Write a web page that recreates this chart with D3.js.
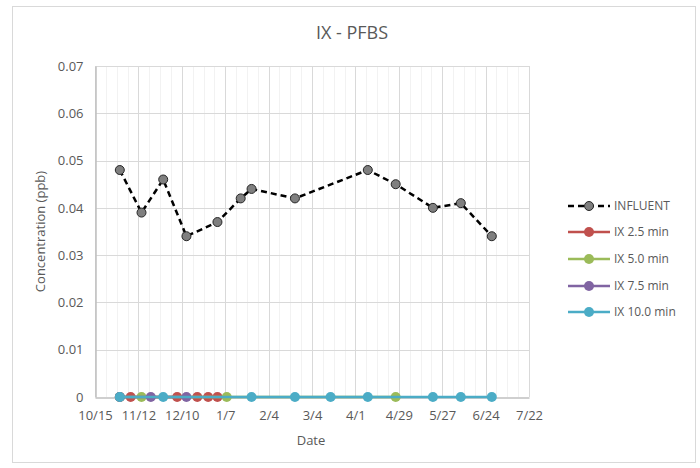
<!DOCTYPE html>
<html>
<head>
<meta charset="utf-8">
<script src="https://cdn.jsdelivr.net/npm/d3@7"></script>
<style>
  body { margin: 0; background: #fff; }
  text { font-family: "Open Sans", "Liberation Sans", sans-serif; fill: #595959; }
</style>
</head>
<body>
<svg id="chart"></svg>
<script>
var width = 700,
    height = 468;

// influent samples
var influentDates = ["2018-10-31", "2018-11-14", "2018-11-28", "2018-12-13", "2019-01-02", "2019-01-17",
    "2019-01-24", "2019-02-21", "2019-04-09", "2019-04-27", "2019-05-21", "2019-06-08", "2019-06-28"];
var influentValues = [0.048, 0.039, 0.046, 0.034, 0.037, 0.042, 0.044, 0.042, 0.048, 0.045, 0.040, 0.041, 0.034];

// effluent samples (all non detect)
var ix25Dates = ["2018-10-31", "2018-11-07", "2018-12-07", "2018-12-20", "2018-12-27", "2019-01-02"];
var ix25Values = [0, 0, 0, 0, 0, 0];
var ix50Dates = ["2018-10-31", "2018-11-14", "2019-01-08", "2019-04-27"];
var ix50Values = [0, 0, 0, 0];
var ix75Dates = ["2018-10-31", "2018-11-20", "2018-12-13"];
var ix75Values = [0, 0, 0];
var ix100Dates = ["2018-10-31", "2018-11-28", "2019-01-24", "2019-02-21", "2019-03-16", "2019-04-09",
    "2019-05-21", "2019-06-08", "2019-06-28"];
var ix100Values = [0, 0, 0, 0, 0, 0, 0, 0, 0];

var seriesNames = ["INFLUENT", "IX 2.5 min", "IX 5.0 min", "IX 7.5 min", "IX 10.0 min"];
var yTicks = [0, 0.01, 0.02, 0.03, 0.04, 0.05, 0.06, 0.07];

var parseDate = d3.utcParse("%Y-%m-%d");
var fmt = d3.utcFormat("%-m/%-d");

var xStart = parseDate("2018-10-15"),
    xEnd = parseDate("2019-07-22");

var margin = {left: 95, top: 66, right: 529, bottom: 397};

var svg = d3.select("#chart")
    .attr("width", width)
    .attr("height", height);

// chart frame
svg.append("rect")
    .attr("x", 12.5).attr("y", 6.5)
    .attr("width", 683).attr("height", 456)
    .style("fill", "#fff")
    .style("stroke", "#d9d9d9");

var x = d3.scaleUtc().domain([xStart, xEnd]).range([margin.left, margin.right]);
var y = d3.scaleLinear().domain([0, 0.07]).range([margin.bottom, margin.top]);

var majorTicks = d3.utcDay.range(xStart, d3.utcDay.offset(xEnd, 1), 28);
var minorTicks = d3.utcDay.range(xStart, d3.utcDay.offset(xEnd, 1), 7);

var grid = svg.append("g");

grid.selectAll(".minor")
    .data(minorTicks)
    .enter().append("line")
    .attr("x1", function(d) { return Math.round(x(d)) + 0.5; })
    .attr("x2", function(d) { return Math.round(x(d)) + 0.5; })
    .attr("y1", margin.top)
    .attr("y2", margin.bottom)
    .style("stroke", "#f2f2f2");

grid.selectAll(".major")
    .data(majorTicks)
    .enter().append("line")
    .attr("x1", function(d) { return Math.round(x(d)) + 0.5; })
    .attr("x2", function(d) { return Math.round(x(d)) + 0.5; })
    .attr("y1", margin.top)
    .attr("y2", margin.bottom)
    .style("stroke", "#d9d9d9");

grid.selectAll(".hgrid")
    .data(yTicks.slice(1))
    .enter().append("line")
    .attr("x1", margin.left)
    .attr("x2", margin.right)
    .attr("y1", function(d) { return Math.round(y(d)) + 0.5; })
    .attr("y2", function(d) { return Math.round(y(d)) + 0.5; })
    .style("stroke", "#d9d9d9");

// axes
var yAxis = svg.append("g")
    .attr("transform", "translate(" + (margin.left + 0.5) + ",0)")
    .call(d3.axisLeft(y).tickValues(yTicks).tickFormat(function(d) { return d === 0 ? "0" : d3.format(".2f")(d); }).tickSize(0).tickPadding(12));
yAxis.select(".domain").style("stroke", "#bfbfbf").style("stroke-width", 1.5);
yAxis.selectAll("text").style("font-size", "13px").style("fill", "#595959");

var xAxis = svg.append("g")
    .attr("transform", "translate(0," + (margin.bottom + 0.5) + ")")
    .call(d3.axisBottom(x).tickValues(majorTicks).tickFormat(fmt).tickSize(0).tickPadding(13));
xAxis.select(".domain").style("stroke", "#bfbfbf").style("stroke-width", 1.5);
xAxis.selectAll("text").style("font-size", "13px").style("fill", "#595959");

// titles
svg.append("text")
    .attr("x", 352).attr("y", 39)
    .style("text-anchor", "middle")
    .style("font-size", "18px")
    .text("IX - PFBS");

svg.append("text")
    .attr("x", 311).attr("y", 445)
    .style("text-anchor", "middle")
    .style("font-size", "13px")
    .text("Date");

svg.append("text")
    .attr("transform", "translate(45," + ((margin.top + margin.bottom) / 2) + ") rotate(-90)")
    .style("text-anchor", "middle")
    .style("font-size", "13px")
    .text("Concentration (ppb)");

// series
function zipSeries(dates, values) {
    return dates.map(function(d, i) { return {date: parseDate(d), value: values[i]}; });
}

var series = [
    {name: seriesNames[0], data: zipSeries(influentDates, influentValues), color: "#000", fill: "#7f7f7f", dash: "6,4"},
    {name: seriesNames[1], data: zipSeries(ix25Dates, ix25Values), color: "#c0504d", fill: "#c0504d", dash: null},
    {name: seriesNames[2], data: zipSeries(ix50Dates, ix50Values), color: "#9bbb59", fill: "#9bbb59", dash: null},
    {name: seriesNames[3], data: zipSeries(ix75Dates, ix75Values), color: "#8064a2", fill: "#8064a2", dash: null},
    {name: seriesNames[4], data: zipSeries(ix100Dates, ix100Values), color: "#4bacc6", fill: "#4bacc6", dash: null}
];

var line = d3.line()
    .x(function(d) { return x(d.date); })
    .y(function(d) { return y(d.value); });

series.forEach(function(s, i) {
    var g = svg.append("g");
    g.append("path")
        .datum(s.data)
        .attr("d", line)
        .style("fill", "none")
        .style("stroke", s.color)
        .style("stroke-width", 2.5)
        .style("stroke-dasharray", s.dash);
    g.selectAll("circle")
        .data(s.data)
        .enter().append("circle")
        .attr("cx", function(d) { return x(d.date); })
        .attr("cy", function(d) { return y(d.value); })
        .attr("r", i === 0 ? 4.5 : 5)
        .style("fill", s.fill)
        .style("stroke", i === 0 ? "#262626" : "none")
        .style("stroke-width", 1);
});

// legend
var legend = svg.append("g");
var legendY = [206, 232, 259, 286, 312];

series.forEach(function(s, i) {
    var row = legend.append("g").attr("transform", "translate(0," + legendY[i] + ")");
    row.append("line")
        .attr("x1", 568).attr("x2", 610)
        .style("stroke", s.color)
        .style("stroke-width", 2.5)
        .style("stroke-dasharray", s.dash);
    row.append("circle")
        .attr("cx", 589).attr("r", i === 0 ? 4.5 : 5)
        .style("fill", s.fill)
        .style("stroke", i === 0 ? "#262626" : "none");
    row.append("text")
        .attr("x", 614).attr("dy", "0.35em")
        .style("font-size", "12px")
        .text(s.name);
});
</script>
</body>
</html>
